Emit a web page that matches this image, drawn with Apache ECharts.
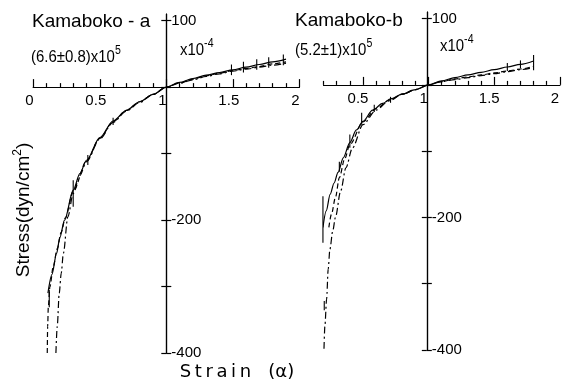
<!DOCTYPE html>
<html>
<head>
<meta charset="utf-8">
<script src="https://cdn.jsdelivr.net/npm/echarts@6/dist/echarts.min.js"></script>
<style>
  html, body { margin: 0; padding: 0; background: #fff; }
  #chart { width: 562px; height: 383px; }
</style>
</head>
<body>
<div id="chart"></div>
<script>
// strain (alpha) / stress (x10^4 dyn/cm2)
var aSolid = [[0.11,-310],[0.14,-282],[0.175,-250],[0.2,-226],[0.235,-200],[0.3,-155],[0.35,-130],[0.4,-110],[0.5,-76],[0.6,-51],[0.7,-35],[0.8,-22],[0.9,-11],[1,0],[1.1,7],[1.2,13],[1.3,18],[1.4,22],[1.5,26],[1.6,30],[1.7,34],[1.8,38],[1.9,42]];
var aDash = [[0.105,-400],[0.108,-360],[0.113,-330],[0.125,-300],[0.15,-270],[0.18,-243],[0.21,-218],[0.24,-197],[0.3,-157],[0.4,-111],[0.5,-77],[0.6,-52],[0.7,-35],[0.8,-22],[0.9,-11],[1,0],[1.1,6],[1.2,12],[1.3,17],[1.4,21],[1.5,25],[1.6,28],[1.7,31],[1.8,35],[1.9,38]];
var aDashDot = [[0.17,-400],[0.18,-360],[0.195,-310],[0.21,-280],[0.226,-250],[0.26,-195],[0.3,-160],[0.35,-133],[0.4,-112],[0.5,-78],[0.6,-53],[0.7,-36],[0.8,-23],[0.9,-11],[1,0],[1.1,6],[1.2,11],[1.3,16],[1.4,20],[1.5,24],[1.6,27],[1.7,30],[1.8,33],[1.9,36]];
// error bars: [strain, low, high]
var aErr = [[0.6,-57,-46],[0.41,-117,-102],[0.3,-180,-140],[0.12,-331,-305],[1.49,18,34],[1.58,22,38],[1.68,26,42],[1.77,29,45],[1.88,33,49]];

var bSolid = [[0.195,-215],[0.22,-190],[0.25,-165],[0.28,-148],[0.31,-132],[0.35,-110],[0.4,-87],[0.45,-68],[0.5,-55],[0.574,-38],[0.65,-28],[0.712,-21],[0.8,-14],[0.9,-7],[1,0],[1.1,6],[1.2,11],[1.3,15],[1.4,19],[1.5,23],[1.6,27],[1.7,31],[1.8,36]];
var bDash = [[0.24,-215],[0.26,-195],[0.29,-170],[0.32,-140],[0.36,-112],[0.4,-90],[0.5,-56],[0.6,-36],[0.7,-23],[0.8,-14],[0.9,-7],[1,0],[1.1,5],[1.2,9],[1.3,12],[1.4,15],[1.5,18],[1.6,21],[1.7,24],[1.8,28]];
var bDashDot = [[0.203,-398],[0.21,-363],[0.223,-323],[0.235,-278],[0.248,-248],[0.27,-220],[0.29,-200],[0.33,-160],[0.37,-125],[0.42,-95],[0.5,-60],[0.6,-38],[0.7,-24],[0.8,-14],[0.9,-7],[1,0],[1.1,5],[1.2,8],[1.3,11],[1.4,14],[1.5,17],[1.6,20],[1.7,23],[1.8,26]];
var bErr = [[0.71,-27,-18],[0.586,-41,-30],[0.49,-60,-42],[0.4,-95,-75],[0.32,-131,-116],[0.195,-238,-168],[0.205,-340,-326],[1.6,21,33],[1.7,25,37],[1.8,22,45]];

// axis ticks
var aMajor = [0, 0.5, 1, 1.5, 2];
var aMinor = [0.1,0.2,0.3,0.4,0.6,0.7,0.8,0.9,1.1,1.2,1.3,1.4,1.6,1.7,1.8,1.9];
var bMajor = [0.5, 1, 1.5, 2];
var bMinor = [0.2,0.3,0.4,0.6,0.7,0.8,0.9,1.1,1.2,1.3,1.4,1.6,1.7,1.8,1.9];
var yTicks = [-400, -300, -200, -100, 0, 100];
var yLabels = [100, -200, -400];
var yMin = -400, yMax = 110;

var SANS = "'Liberation Sans', sans-serif";
var ink = { color: '#000', width: 1.2 };

// the x axis sits on stress = 0, lifted there with a negative offset
function xAxes(grid, g, min, major, minor, shift) {
	var lift = -g.height * (0 - yMin) / (yMax - yMin);
	return [{
		gridIndex: grid, type: 'value', min: min, max: 2, position: 'bottom', offset: lift,
		axisLine: { onZero: false, lineStyle: ink },
		axisTick: { inside: true, length: 8, customValues: major, lineStyle: ink },
		axisLabel: { customValues: major, margin: 6, padding: [0, shift, 0, 0],
			color: '#000', fontSize: 15, fontFamily: SANS },
		splitLine: { show: false }
	}, {
		gridIndex: grid, type: 'value', min: min, max: 2, position: 'bottom', offset: lift,
		axisLine: { onZero: false, lineStyle: ink },
		axisTick: { inside: true, length: 4, customValues: minor, lineStyle: ink },
		axisLabel: { show: false },
		splitLine: { show: false }
	}];
}

// the y axis sits on strain = 1; two copies so the ticks cross the line
function yAxes(grid, off) {
	var base = {
		gridIndex: grid, type: 'value', min: yMin, max: yMax, position: 'right', offset: off,
		axisLine: { onZero: false, lineStyle: ink },
		splitLine: { show: false }
	};
	return [
		echarts.util.merge({
			axisTick: { length: 5, customValues: yTicks, lineStyle: ink },
			axisLabel: { customValues: yLabels, margin: 5, color: '#000', fontSize: 15, fontFamily: SANS } }, base),
		echarts.util.merge({
			axisTick: { inside: true, length: 5, customValues: yTicks, lineStyle: ink },
			axisLabel: { show: false } }, base)
	];
}

function curve(name, data, x, y, type) {
	return {
		name: name, type: 'line', data: data, xAxisIndex: x, yAxisIndex: y,
		showSymbol: false, smooth: 0.3, smoothMonotone: 'x', silent: true,
		lineStyle: { color: '#000', width: 1.2, type: type }
	};
}

function errBars(data, x, y) {
	return {
		type: 'custom', data: data, xAxisIndex: x, yAxisIndex: y, silent: true,
		renderItem: function(params, api) {
			var p1 = api.coord([api.value(0), api.value(1)]);
			var p2 = api.coord([api.value(0), api.value(2)]);
			return { type: 'line', shape: { x1: p1[0], y1: p1[1], x2: p2[0], y2: p2[1] },
				style: { stroke: '#000', lineWidth: 1.1 } };
		}
	};
}

function label(x, y, text, size, extra) {
	var t = { type: 'text', x: x, y: y, silent: true,
		style: { text: text, fill: '#000', fontSize: size, fontFamily: SANS,
			verticalAlign: 'middle', lineHeight: 24,
			rich: { s: { fontSize: 12, fontFamily: SANS, verticalAlign: 'top', lineHeight: 12 } } } };
	return echarts.util.merge(t, extra || {}, true);
}

var dashed = [5, 3];
var dashDot = [7, 3, 2, 3];
var gA = { left: 33.3, top: 14, width: 266, height: 339 };
var gB = { left: 323.6, top: 12, width: 239.4, height: 338 };
var narrow = { scaleX: 0.88 };

var option = {
	backgroundColor: '#fff',
	animation: false,
	grid: [gA, gB],
	xAxis: xAxes(0, gA, 0, aMajor, aMinor, 8).concat(xAxes(1, gB, 0.2, bMajor, bMinor, 10)),
	yAxis: yAxes(0, -133).concat(yAxes(1, -133)),
	series: [
		curve('a-1', aSolid, 0, 0, 'solid'),
		curve('a-2', aDash, 0, 0, dashed),
		curve('a-3', aDashDot, 0, 0, dashDot),
		errBars(aErr, 0, 0),
		curve('b-1', bSolid, 2, 2, 'solid'),
		curve('b-2', bDash, 2, 2, dashed),
		curve('b-3', bDashDot, 2, 2, dashDot),
		errBars(bErr, 2, 2)
	],
	graphic: [
		label(32, 22, 'Kamaboko - a', 19),
		label(31, 57, '(6.6±0.8)x10{s|5}', 17, narrow),
		label(180, 50, 'x10{s|-4}', 17, narrow),
		label(295, 21, 'Kamaboko-b', 19),
		label(295, 50, '(5.2±1)x10{s|5}', 17, narrow),
		label(440, 46, 'x10{s|-4}', 17, narrow),
		label(24, 210, 'Stress(dyn/cm{s|2})', 19,
			{ rotation: Math.PI / 2, style: { align: 'center' } }),
		label(237, 372, 'S\u2009t\u2009r\u2009a\u2009i\u2009n   (\u03b1)', 18,
			{ style: { align: 'center', fontFamily: "'DejaVu Sans', sans-serif" } })
	]
};

var myChart = echarts.init(document.getElementById('chart'));
myChart.setOption(option);
</script>
</body>
</html>
